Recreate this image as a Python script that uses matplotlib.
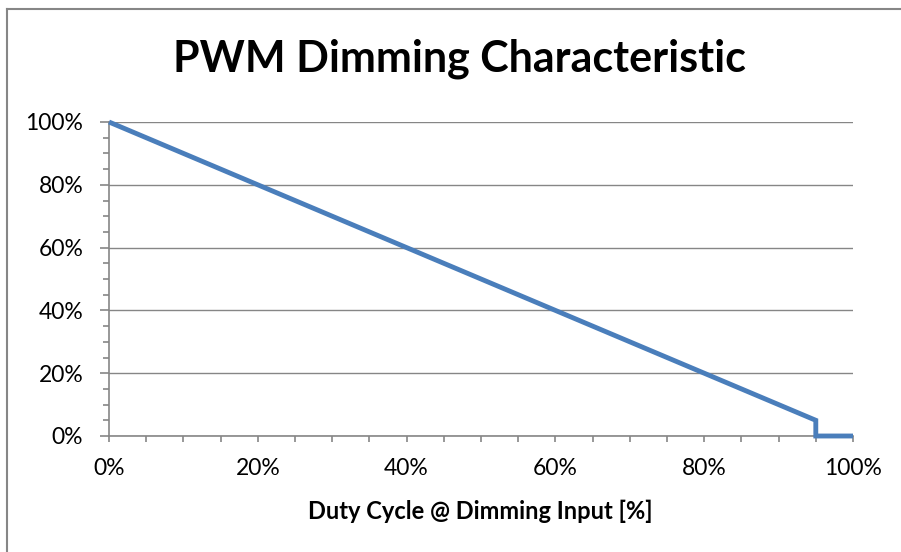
import matplotlib
matplotlib.use("Agg")
import matplotlib.pyplot as plt
from matplotlib.ticker import MultipleLocator, FuncFormatter
from matplotlib.lines import Line2D

duty_cycle = [0, 95, 95, 100]
output = [100, 5, 0, 0]
title = "PWM Dimming Characteristic"
xlabel = "Duty Cycle @ Dimming Input [%]"

plt.rcParams['font.family'] = ['Lato', 'DejaVu Sans']

fig = plt.figure(figsize=(9.01, 5.52), dpi=100)
ax = fig.add_axes([109/901, 1-436/552, (853-109)/901, (436-122)/552])

ax.plot(duty_cycle, output, color='#4a7ebb', lw=3.5, solid_joinstyle='miter', solid_capstyle='butt', clip_on=False, zorder=3)

ax.set_xlim(0, 100)
ax.set_ylim(0, 100)
ax.xaxis.set_major_locator(MultipleLocator(20))
ax.xaxis.set_minor_locator(MultipleLocator(5))
ax.yaxis.set_major_locator(MultipleLocator(20))
ax.yaxis.set_minor_locator(MultipleLocator(5))
fmt = FuncFormatter(lambda v, p: f"{int(round(v))}%")
ax.xaxis.set_major_formatter(fmt)
ax.yaxis.set_major_formatter(fmt)

grey = '#868686'
for s in ['top', 'right']:
    ax.spines[s].set_visible(False)
for s in ['left', 'bottom']:
    ax.spines[s].set_color(grey)
    ax.spines[s].set_linewidth(1.2)
ax.grid(axis='y', which='major', color=grey, lw=1.0)
ax.set_axisbelow(True)
ax.tick_params(axis='both', which='major', direction='out', length=6.5, width=1.2, color=grey, labelsize=16.5)
ax.tick_params(axis='both', which='minor', direction='out', length=4.5, width=1.2, color=grey)
ax.tick_params(axis='x', which='both', length=4.5)
ax.tick_params(axis='x', which='major', pad=11)
ax.tick_params(axis='y', which='major', pad=12)

fig.text(480/901, 1-511/552, xlabel, ha='center', va='center', fontsize=17, fontweight='bold')
fig.text(459/901, 1-59/552, title, ha='center', va='center', fontsize=31, fontweight='bold')

fig.add_artist(Line2D([7/901, 7/901], [0, 1-9/552], color=grey, lw=1.5))
fig.add_artist(Line2D([7/901, 1], [1-9/552, 1-9/552], color=grey, lw=1.5))

fig.savefig('out.png', dpi=100)
